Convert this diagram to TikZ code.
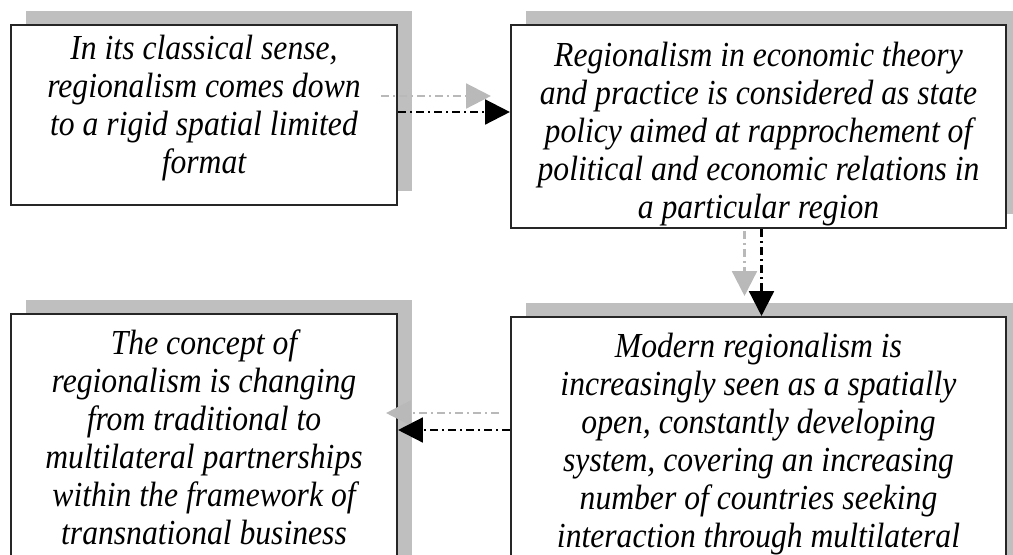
\documentclass[tikz,border=0pt]{standalone}
\usepackage{fontspec}
\setmainfont{Liberation Serif}[FakeStretch=0.9]
\usetikzlibrary{arrows.meta,shadows}
\newcommand{\bt}[4]{\parbox[c][#2][t]{#1}{\centering\rule{0pt}{#3}#4}}
\tikzset{bx/.style={draw=black!85,line width=.05cm,fill=white,inner sep=0pt,
  font=\fontsize{25}{27}\selectfont\itshape,
  general shadow={fill=gray!50,shadow xshift=.375cm,shadow yshift=.35cm}},
 flow/.style={line width=.06cm,dash pattern=on .2cm off .1cm on .05cm off .1cm,
  -{Triangle[length=.62cm,width=.62cm]}},
 ghost/.style={flow,gray!55}}
\begin{document}
\begin{tikzpicture}[x=.025cm,y=-.025cm]
\useasboundingbox (0,0) rectangle (1013,554);
\clip (0,0) rectangle (1013,554);
\node[bx](classic) at (204,115){\bt{9.65cm}{4.5cm}{.87cm}{In its classical sense,\\ regionalism comes down\\ to a rigid spatial limited\\ format}};
\node[bx](state) at (758.5,126.5){\bt{12.375cm}{5.075cm}{1.04cm}{Regionalism in economic theory\\ and practice is considered as state\\ policy aimed at rapprochement of\\ political and economic relations in\\ a particular region}};
\node[bx](concept) at (204,444){\bt{9.65cm}{6.5cm}{1.02cm}{The concept of\\ regionalism is changing\\ from traditional to\\ multilateral partnerships\\ within the framework of\\ transnational business}};
\node[bx](modern) at (758.5,447){\bt{12.375cm}{6.5cm}{1.02cm}{Modern regionalism is\\ increasingly seen as a spatially\\ open, constantly developing\\ system, covering an increasing\\ number of countries seeking\\ interaction through multilateral}};
% links, grey trace first
\draw[ghost]([shift={(-17,-19)}]classic.east)--([shift={(-19,-19)}]classic.east -| state.west);
\draw[flow]([shift={(0,-3)}]classic.east)--([shift={(0,-3)}]classic.east -| state.west);
\draw[ghost]([shift={(-14,2)}]state.south)--([shift={(-14,-20)}]modern.north);
\draw[flow]([shift={(3,0)}]state.south)--([shift={(3,0)}]modern.north);
\draw[ghost]([shift={(-11,-34)}]modern.west)--([shift={(-12,-34)}]modern.west -| concept.east);
\draw[flow]([shift={(0,-17)}]modern.west)--([shift={(0,-17)}]modern.west -| concept.east);
\end{tikzpicture}
\end{document}
